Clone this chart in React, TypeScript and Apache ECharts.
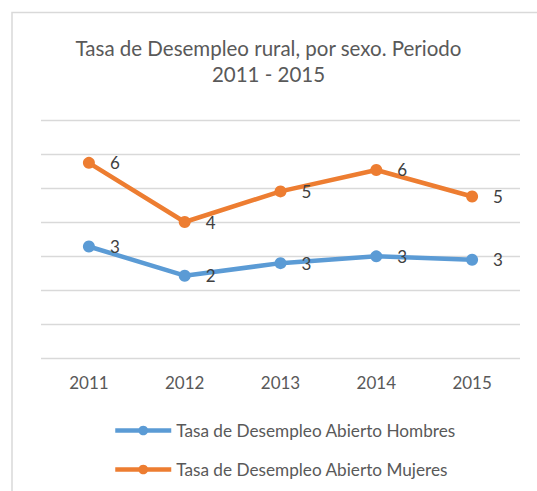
import React, { useEffect, useRef } from "react";
import * as echarts from "echarts";

const categories = ["2011", "2012", "2013", "2014", "2015"];
const hombres = [3.28, 2.42, 2.79, 2.99, 2.89];
const mujeres = [5.74, 4.0, 4.9, 5.53, 4.75];
const seriesNames = [
  "Tasa de Desempleo Abierto Hombres",
  "Tasa de Desempleo Abierto Mujeres",
];
const titleText = "Tasa de Desempleo rural, por sexo. Periodo\n2011 - 2015";

const FONT = "Lato";
const TEXT_COLOR = "#595959";

export default function App() {
  const ref = useRef<HTMLDivElement>(null);
  useEffect(() => {
    if (!ref.current) return;
    const chart = echarts.init(ref.current, undefined, { renderer: "svg" });
    const labelCfg = {
      show: true,
      position: "right",
      distance: 15,
      color: "#404040",
      fontFamily: FONT,
      fontSize: 17,
      formatter: (p: any) => String(Math.round(p.value)),
    };
    chart.setOption({
      animation: false,
      backgroundColor: "#ffffff",
      textStyle: { fontFamily: FONT },
      title: {
        text: titleText,
        left: "center",
        top: 30,
        textStyle: {
          fontFamily: FONT,
          fontSize: 20.5,
          fontWeight: "normal",
          color: TEXT_COLOR,
          lineHeight: 26,
        },
      },
      graphic: [
        {
          type: "polyline",
          shape: { points: [[12, 491], [12, 12.5], [537, 12.5]] },
          style: { stroke: "#D9D9D9", lineWidth: 1.5, fill: "none" },
          silent: true,
        },
      ],
      grid: { left: 41, right: 17, top: 120, bottom: 133, containLabel: false },
      xAxis: {
        type: "category",
        data: categories,
        boundaryGap: true,
        axisLine: { show: false },
        axisTick: { show: false },
        axisLabel: {
          margin: 16,
          color: TEXT_COLOR,
          fontFamily: FONT,
          fontSize: 17,
        },
      },
      yAxis: {
        type: "value",
        min: 0,
        max: 7,
        interval: 1,
        axisLabel: { show: false },
        axisLine: { show: false },
        axisTick: { show: false },
        splitLine: { lineStyle: { color: "#D9D9D9", width: 1.3 } },
      },
      legend: {
        orient: "vertical",
        left: 108,
        top: 417,
        itemWidth: 56,
        itemHeight: 12,
        itemGap: 22,
        lineStyle: { width: 4.5 },
        textStyle: { color: TEXT_COLOR, fontFamily: FONT, fontSize: 17.2 },
        data: seriesNames,
      },
      series: [
        {
          name: seriesNames[0],
          type: "line",
          data: hombres,
          color: "#5B9BD5",
          symbol: "circle",
          symbolSize: 12,
          lineStyle: { width: 4.5, color: "#5B9BD5" },
          itemStyle: { color: "#5B9BD5" },
          label: labelCfg,
        },
        {
          name: seriesNames[1],
          type: "line",
          data: mujeres,
          color: "#ED7D31",
          symbol: "circle",
          symbolSize: 12,
          lineStyle: { width: 4.5, color: "#ED7D31" },
          itemStyle: { color: "#ED7D31" },
          label: labelCfg,
        },
      ],
    });
    return () => chart.dispose();
  }, []);
  return (
    <div
      ref={ref}
      style={{ position: "absolute", left: 0, top: 0, width: 537, height: 491 }}
    />
  );
}
